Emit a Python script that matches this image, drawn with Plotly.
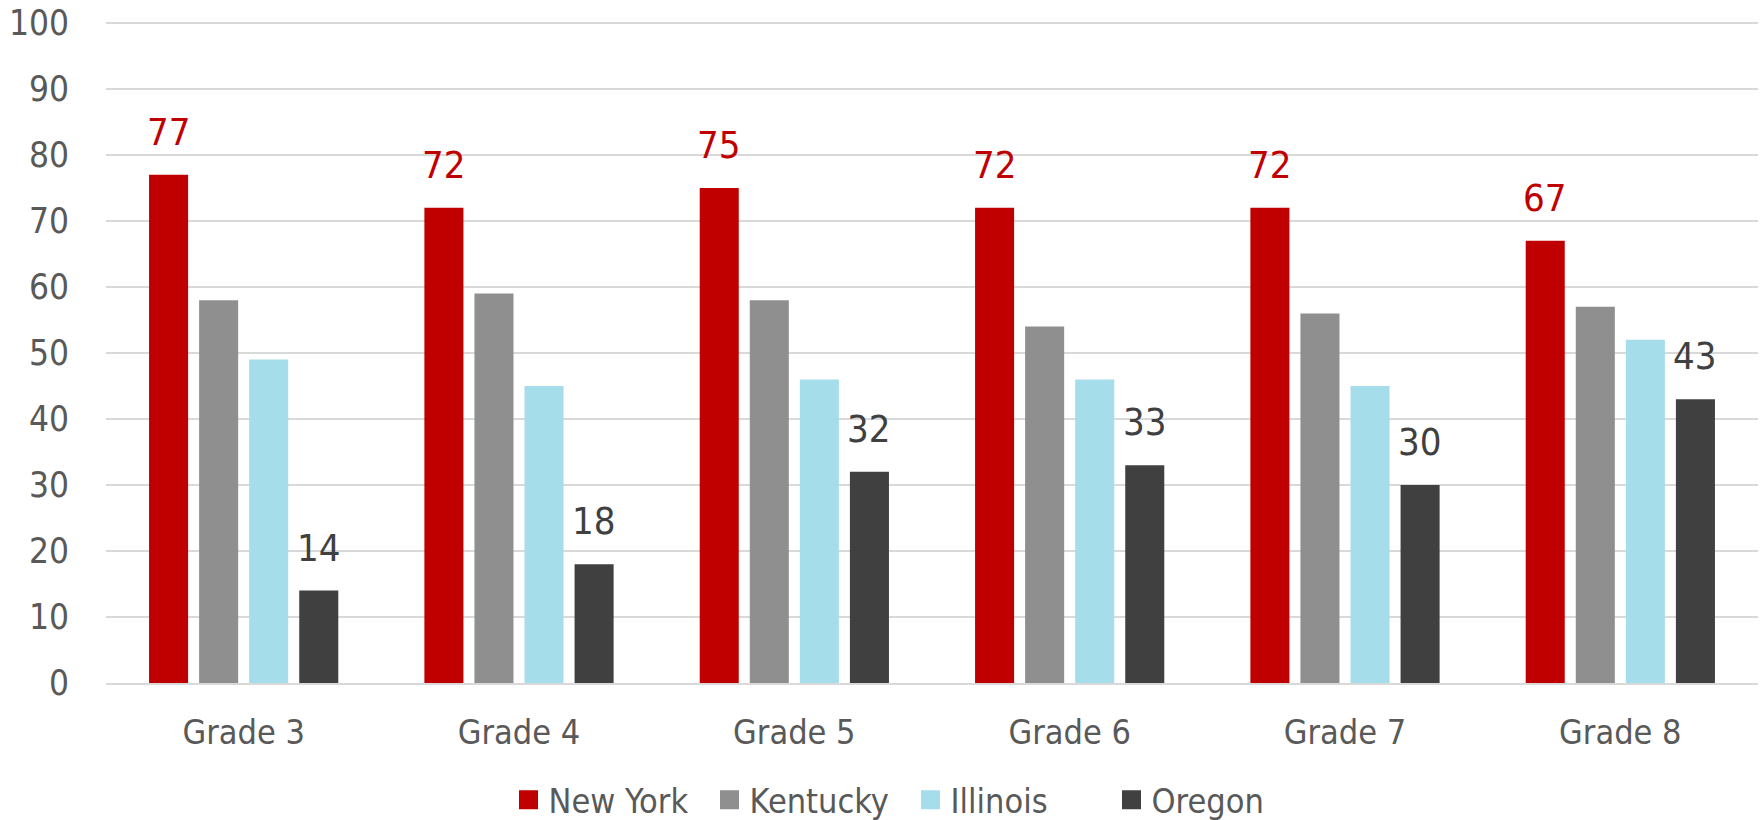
import plotly.graph_objects as go

grades = ["Grade 3", "Grade 4", "Grade 5", "Grade 6", "Grade 7", "Grade 8"]
series_names = ["New York", "Kentucky", "Illinois", "Oregon"]
new_york = [77, 72, 75, 72, 72, 67]
kentucky = [58, 59, 58, 54, 56, 57]
illinois = [49, 45, 46, 46, 45, 52]
oregon = [14, 18, 32, 33, 30, 43]
y_ticks = [0, 10, 20, 30, 40, 50, 60, 70, 80, 90, 100]

colors = ["#C00000", "#8F8F8F", "#A6DDEA", "#404040"]
label_colors = ["#C00000", None, None, "#404040"]
FONT = "DejaVu Sans Condensed, Liberation Sans Narrow, Open Sans, sans-serif"

W, H = 1760, 820
ML, MR, MT, MB = 106, 2, 21, 137
BARGAP, GROUPGAP = 0.2727, 0.22

fig = go.Figure()
all_vals = [new_york, kentucky, illinois, oregon]
for name, vals, col in zip(series_names, all_vals, colors):
    fig.add_trace(go.Bar(
        x=grades, y=vals, name=name, showlegend=False, legendgroup=name,
        marker=dict(color=col, line=dict(width=0)),
    ))
    fig.add_trace(go.Scatter(
        x=[None], y=[None], mode="markers", name=name, legendgroup=name,
        marker=dict(symbol="square", size=16, color=col, line=dict(color=col, width=3)),
    ))

# data labels above New York and Oregon bars
cat_w = (W - ML - MR) / len(grades)
slot = cat_w * (1 - BARGAP) / len(series_names)
for i, (vals, lcol) in enumerate(zip(all_vals, label_colors)):
    if not lcol:
        continue
    off = (i - (len(series_names) - 1) / 2) * slot
    for g, v in zip(grades, vals):
        fig.add_annotation(x=g, y=v, text=str(v), showarrow=False, xshift=off,
                           yanchor="bottom", yshift=19,
                           font=dict(color=lcol, size=38, family=FONT))

fig.update_layout(
    width=W, height=H,
    margin=dict(l=ML, r=MR, t=MT, b=MB, autoexpand=False),
    plot_bgcolor="white", paper_bgcolor="white",
    barmode="group", bargap=BARGAP, bargroupgap=GROUPGAP,
    font=dict(family=FONT, color="#595959", size=34),
    showlegend=True,
    legend=dict(orientation="h", x=0.487, xanchor="center", y=-0.177, yanchor="middle",
                font=dict(size=34, color="#595959"), itemwidth=30,
                entrywidth=156, entrywidthmode="pixels"),
)
fig.update_xaxes(showgrid=False, showline=True, linecolor="#D9D9D9", linewidth=2,
                 ticks="", tickfont=dict(size=34, color="#595959"), ticklabelstandoff=18,
                 automargin=False)
fig.update_yaxes(range=[0, 100.3], tickvals=y_ticks, showgrid=True, gridcolor="#D9D9D9",
                 gridwidth=1.5, zeroline=False, showline=False, ticks="",
                 tickfont=dict(size=35, color="#595959"), ticklabelstandoff=36,
                 automargin=False)

fig.write_html("out.html", config={"displayModeBar": False},
               post_script="document.body.style.margin='0';")
